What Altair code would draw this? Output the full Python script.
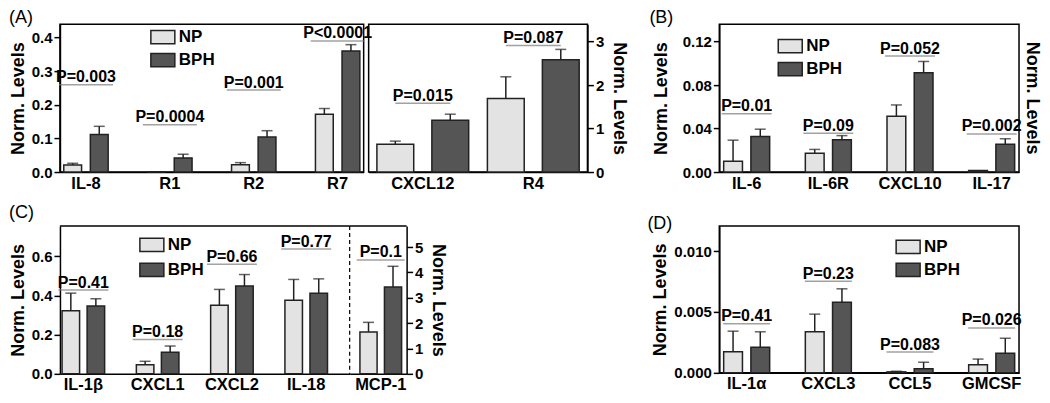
import altair as alt
import pandas as pd

FONT = "Liberation Sans"
NP_COLOR = "#e3e3e3"
BPH_COLOR = "#555555"
EDGE = "#222222"
PLINE = "#7a7a7a"
GROUPS = ["NP", "BPH"]

# ---------------- Panel A (left part) ----------------
a1_cats = ["IL-8", "R1", "R2", "R7"]
a1_np = [0.021, 0.001, 0.022, 0.172]
a1_np_sem = [0.005, 0.0, 0.006, 0.017]
a1_bph = [0.112, 0.042, 0.104, 0.360]
a1_bph_sem = [0.024, 0.011, 0.019, 0.019]
a1_ptext = ["P=0.003", "P=0.0004", "P=0.001", "P<0.0001"]
a1_pline = [0.26, 0.141, 0.244, 0.39]

# ---------------- Panel A (right part) ----------------
a2_cats = ["CXCL12", "R4"]
a2_np = [0.64, 1.69]
a2_np_sem = [0.07, 0.50]
a2_bph = [1.19, 2.58]
a2_bph_sem = [0.14, 0.24]
a2_ptext = ["P=0.015", "P=0.087"]
a2_pline = [1.58, 2.91]

# ---------------- Panel B ----------------
b_cats = ["IL-6", "IL-6R", "CXCL10", "IL-17"]
b_np = [0.0098, 0.0172, 0.0513, 0.0015]
b_np_sem = [0.0195, 0.0036, 0.0104, 0.0]
b_bph = [0.0326, 0.0297, 0.0913, 0.0255]
b_bph_sem = [0.0068, 0.0038, 0.0104, 0.0051]
b_ptext = ["P=0.01", "P=0.09", "P=0.052", "P=0.002"]
b_pline = [0.0537, 0.0356, 0.1067, 0.035]

# ---------------- Panel C (left part) ----------------
c1_cats = ["IL-1β", "CXCL1", "CXCL2", "IL-18"]
c1_np = [0.322, 0.046, 0.35, 0.376]
c1_np_sem = [0.09, 0.018, 0.081, 0.106]
c1_bph = [0.347, 0.11, 0.448, 0.412]
c1_bph_sem = [0.037, 0.032, 0.059, 0.073]
c1_ptext = ["P=0.41", "P=0.18", "P=0.66", "P=0.77"]
c1_pline = [0.428, 0.175, 0.559, 0.637]

# ---------------- Panel C (right part) ----------------
c2_cats = ["MCP-1"]
c2_np = [1.65]
c2_np_sem = [0.38]
c2_bph = [3.42]
c2_bph_sem = [0.82]
c2_ptext = ["P=0.1"]
c2_pline = [4.49]

# ---------------- Panel D ----------------
d_cats = ["IL-1α", "CXCL3", "CCL5", "GMCSF"]
d_np = [0.00174, 0.00337, 0.00008, 0.00066]
d_np_sem = [0.00168, 0.00145, 0.00005, 0.00047]
d_bph = [0.0021, 0.00579, 0.00034, 0.0016]
d_bph_sem = [0.00127, 0.00111, 0.00053, 0.00124]
d_ptext = ["P=0.41", "P=0.23", "P=0.083", "P=0.026"]
d_pline = [0.00403, 0.00753, 0.00171, 0.00369]

LEGEND_SHAPE = "M-1,-0.55H1V0.55H-1Z"


def bar_table(cats, np_v, np_s, bph_v, bph_s):
    rows = []
    for c, a, sa, b, sb in zip(cats, np_v, np_s, bph_v, bph_s):
        rows.append({"cat": c, "grp": "NP", "val": a, "sem": sa, "top": a + sa})
        rows.append({"cat": c, "grp": "BPH", "val": b, "sem": sb, "top": b + sb})
    return pd.DataFrame(rows)


def panel(cats, np_v, np_s, bph_v, bph_s, ptext, pline, *, width, height,
          ymax, band, off, yaxis, pwidth, legend=None, right_title=False,
          title=None, cframe=None):
    df = bar_table(cats, np_v, np_s, bph_v, bph_s)
    pdf = pd.DataFrame({"cat": cats, "p": ptext, "pl": pline})

    xsc = alt.Scale(**band)
    osc = alt.Scale(**off)
    ysc = alt.Scale(domain=[0, ymax], nice=False, zero=True)
    xaxis = alt.Axis(labelAngle=0, ticks=False, labelFontSize=16.5,
                     labelPadding=3, labelFont=FONT, labelFontWeight="bold",
                     title=None)

    def X():
        return alt.X("cat:N", sort=cats, scale=xsc, axis=xaxis)

    def Y(field):
        return alt.Y(field, scale=ysc, axis=yaxis)

    base = alt.Chart(df)
    if legend is not None:
        leg = alt.Legend(
            orient="none", legendX=legend[0], legendY=legend[1], title=None,
            direction="vertical", symbolType=LEGEND_SHAPE, symbolSize=576,
            symbolStrokeColor=EDGE, symbolStrokeWidth=1.5,
            labelFontSize=17, labelFont=FONT, labelFontWeight="bold",
            labelColor="black", labelOffset=3, rowPadding=legend[2])
    else:
        leg = None

    bars = base.mark_bar(stroke=EDGE, strokeWidth=1.5).encode(
        x=X(),
        xOffset=alt.XOffset("grp:N", sort=GROUPS, scale=osc),
        y=Y("val:Q"),
        color=alt.Color("grp:N", sort=GROUPS,
                        scale=alt.Scale(domain=GROUPS, range=[NP_COLOR, BPH_COLOR]),
                        legend=leg),
    )
    errs = base.transform_filter("datum.sem > 0").mark_rule(
        color=EDGE, strokeWidth=1.5).encode(
        x=X(),
        xOffset=alt.XOffset("grp:N", sort=GROUPS, scale=osc),
        y=Y("val:Q"),
        y2="top:Q",
    )
    caps = base.transform_filter("datum.sem > 0").mark_tick(
        color=EDGE, thickness=1.5, size=11).encode(
        x=X(),
        xOffset=alt.XOffset("grp:N", sort=GROUPS, scale=osc),
        y=Y("top:Q"),
    )
    plines = alt.Chart(pdf).mark_tick(
        color=PLINE, thickness=1.5, size=pwidth).encode(
        x=X(),
        y=Y("pl:Q"),
    )
    ptexts = alt.Chart(pdf).mark_text(
        font=FONT, fontSize=16, fontWeight="bold", baseline="alphabetic",
        dy=-2.5, color="black").encode(
        x=X(),
        y=Y("pl:Q"),
        text="p:N",
    )
    layers = [bars, errs, caps, plines, ptexts]
    frame = pd.DataFrame({"label": ["Norm. Levels"]})
    if right_title:
        layers.append(alt.Chart(frame).mark_text(
            font=FONT, fontSize=18, fontWeight="bold", angle=90,
            color="black").encode(
            x=alt.value(width + 13), y=alt.value(height / 2), text="label:N"))
    if cframe is not None:
        # frame for the split panel C: solid top edge, dashed divider
        layers.append(alt.Chart(frame).mark_rule(color="black", strokeWidth=1.5).encode(
            x=alt.value(0), x2=alt.value(width), y=alt.value(0)))
        if cframe == "divider":
            layers.append(alt.Chart(frame).mark_rule(
                color="black", strokeWidth=1.2, strokeDash=[4, 3]).encode(
                x=alt.value(width), y=alt.value(0), y2=alt.value(height)))
    ch = alt.layer(*layers)
    props = {"width": width, "height": height}
    if title is not None:
        props["title"] = alt.TitleParams(
            title[0], anchor="start", frame="group", dx=title[1],
            offset=title[2], fontSize=18, fontWeight="normal", font=FONT,
            color="black")
    if cframe is not None:
        props["view"] = alt.ViewBackground(stroke="transparent")
    return ch.properties(**props)


def left_axis(vals, fmt, tpad=4):
    return alt.Axis(values=vals, format=fmt, tickSize=6, labelFontSize=15,
                    labelPadding=2, title="Norm. Levels", titleFontSize=18,
                    titlePadding=tpad, orient="left")


def right_axis(vals, fmt):
    return alt.Axis(values=vals, format=fmt, tickSize=6, labelFontSize=15,
                    labelPadding=2, title="Norm. Levels", titleFontSize=18,
                    titlePadding=6, orient="right")


H1 = 148
A1 = panel(a1_cats, a1_np, a1_np_sem, a1_bph, a1_bph_sem, a1_ptext, a1_pline,
           width=304, height=H1, ymax=0.44, pwidth=54,
           band=dict(paddingInner=0.42, paddingOuter=0.02),
           off=dict(paddingInner=0.33, paddingOuter=0.08),
           yaxis=left_axis([0, 0.1, 0.2, 0.3, 0.4], ".1f"),
           legend=(90, 0, 0), title=("(A)", -51, -3))
A2 = panel(a2_cats, a2_np, a2_np_sem, a2_bph, a2_bph_sem, a2_ptext, a2_pline,
           width=219, height=H1, ymax=3.4, pwidth=55,
           band=dict(paddingInner=0.02, paddingOuter=0.0),
           off=dict(paddingInner=0.33, paddingOuter=0.15),
           yaxis=right_axis([0, 1, 2, 3], "d"))
B = panel(b_cats, b_np, b_np_sem, b_bph, b_bph_sem, b_ptext, b_pline,
          width=300, height=H1, ymax=0.136, pwidth=50,
          band=dict(paddingInner=0.35, paddingOuter=0.01),
          off=dict(paddingInner=0.31, paddingOuter=0.13),
          yaxis=left_axis([0, 0.04, 0.08, 0.12], ".2f", tpad=12),
          legend=(58, 9, 0), right_title=True, title=("(B)", -70, -3))
C1 = panel(c1_cats, c1_np, c1_np_sem, c1_bph, c1_bph_sem, c1_ptext, c1_pline,
           width=290, height=148, ymax=0.755, pwidth=50,
           band=dict(paddingInner=0.4, paddingOuter=0.15, align=0.05),
           off=dict(paddingInner=0.3, paddingOuter=0.04),
           yaxis=left_axis([0, 0.2, 0.4, 0.6], ".1f"),
           legend=(79, 6, 2), title=("(C)", -51, 3), cframe="divider")
C2 = panel(c2_cats, c2_np, c2_np_sem, c2_bph, c2_bph_sem, c2_ptext, c2_pline,
           width=57, height=148, ymax=5.83, pwidth=48,
           band=dict(paddingInner=0.0, paddingOuter=0.16, align=0.69),
           off=dict(paddingInner=0.3, paddingOuter=0.03),
           yaxis=right_axis([0, 1, 2, 3, 4, 5], "d"), cframe="plain")
D = panel(d_cats, d_np, d_np_sem, d_bph, d_bph_sem, d_ptext, d_pline,
          width=300, height=147, ymax=0.01206, pwidth=47,
          band=dict(paddingInner=0.35, paddingOuter=0.01),
          off=dict(paddingInner=0.31, paddingOuter=0.13),
          yaxis=left_axis([0, 0.005, 0.010], ".3f"),
          legend=(176, 8, 0), title=("(D)", -72, -7))


def indep(c):
    return c.resolve_scale(color="independent", xOffset="independent").resolve_legend(
        color="independent")


rowA = indep(alt.hconcat(A1, A2, spacing=5, bounds="flush"))
rowC = indep(alt.hconcat(C1, C2, spacing=0, bounds="flush"))
left = indep(alt.vconcat(rowA, rowC, spacing=10))
right = indep(alt.vconcat(B, D, spacing=54, bounds="flush"))
chart = indep(alt.hconcat(left, right, spacing=17))

chart = chart.properties(
    padding={"left": 0, "top": 0, "right": 0, "bottom": 0},
    background="white",
).configure_view(
    stroke="black", strokeWidth=1.5
).configure_axis(
    grid=False, labelFont=FONT, titleFont=FONT, labelFontWeight="bold",
    titleFontWeight="bold", labelColor="black", titleColor="black",
    domainColor="black", domainWidth=1.5, tickColor="black", tickWidth=1.5,
).configure_legend(
    labelFont=FONT, labelColor="black"
).configure_title(font=FONT)

chart.save("out.html", embed_options={"renderer": "svg", "actions": False})
